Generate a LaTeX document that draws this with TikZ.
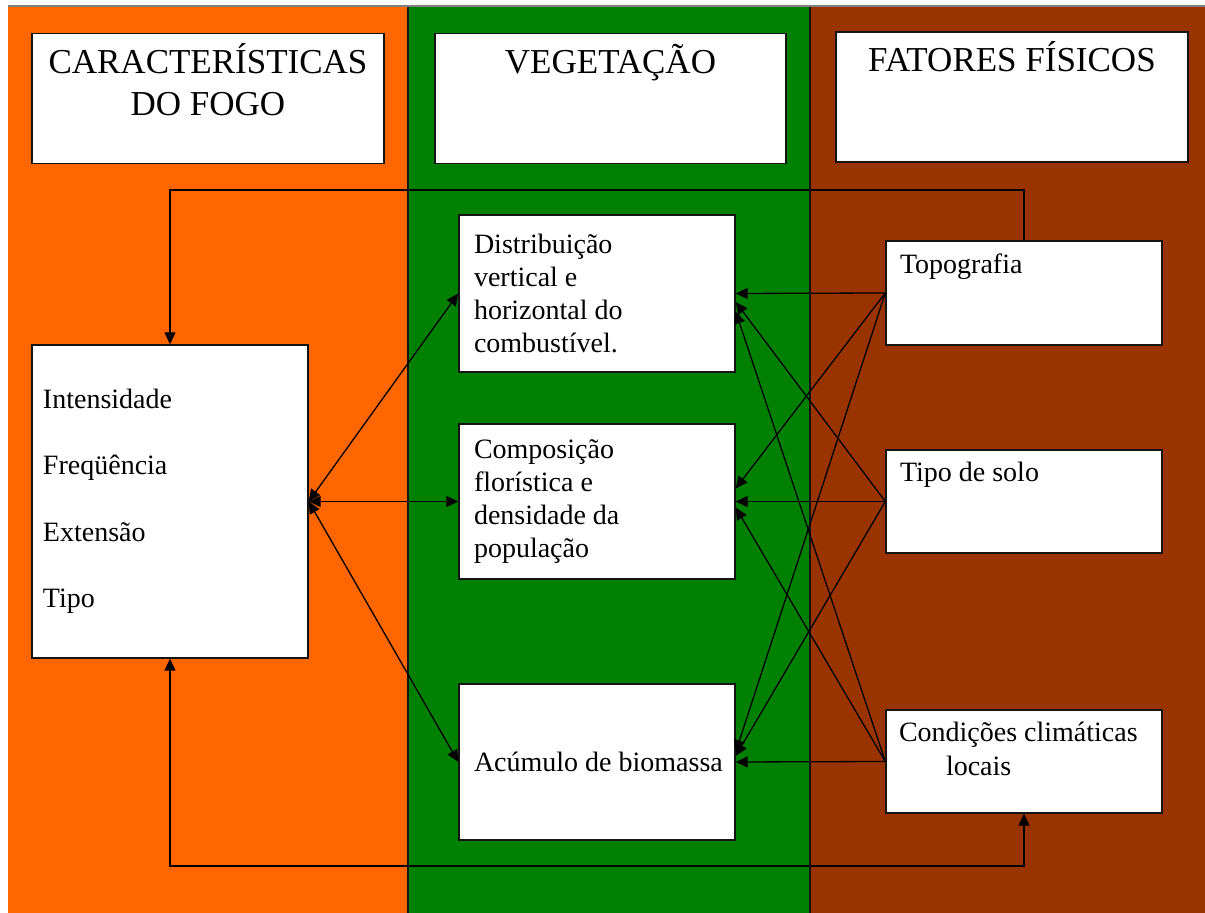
\documentclass[tikz,border=0pt]{standalone}
\usepackage{fontspec}
\setmainfont{LiberationSerif}[Extension=.ttf, UprightFont=*-Regular, BoldFont=*-Bold]
\usetikzlibrary{arrows.meta}
\definecolor{og}{HTML}{FF6600}
\definecolor{gn}{HTML}{008000}
\definecolor{br}{HTML}{993300}
\definecolor{ln}{HTML}{141414}

\begin{document}
\begin{tikzpicture}[x=0.5pt, y=-0.5pt,
  card/.style={draw=ln, fill=white, line width=0.7pt, inner sep=0pt},
  link/.style={draw=black, line width=0.65pt, -{Triangle[length=6pt,width=5.5pt]}},
  twoway/.style={link, {Triangle[length=6pt,width=5.5pt]}-{Triangle[length=6pt,width=5.5pt]}}]
  \useasboundingbox (0,0) rectangle (1205,913);
  % columns
  \fill[og] (8,7) rectangle (408,913);
  \fill[gn] (408,7) rectangle (810,913);
  \fill[br] (810,7) rectangle (1205,913);
  \draw[gray, line width=0.8pt] (8,6) -- (1205,6);
  \draw[ln, line width=0.6pt] (408,7) -- (408,913);
  \draw[ln, line width=0.6pt] (810,7) -- (810,913);

  % headers
  \node[card] (hfogo) at (208,98.5) {\parbox[c][65pt][t]{176pt}{\centering\fontsize{17.5}{21}\selectfont\rule{0pt}{20pt}CARACTERÍSTICAS\\DO FOGO}};
  \node[card] (hveg) at (610.5,98.5) {\parbox[c][65pt][t]{175.5pt}{\centering\fontsize{17.5}{21}\selectfont\rule{0pt}{20pt}VEGETAÇÃO}};
  \node[card] (hfis) at (1012,97) {\parbox[c][65pt][t]{176pt}{\centering\fontsize{17.5}{21}\selectfont\rule{0pt}{20pt}FATORES FÍSICOS}};

  % boxes
  \node[card] (fogo) at (170,501.5) {\parbox[c][156.5pt][c]{138pt}{\leftskip=5.5pt\fontsize{14}{33.25}\selectfont Intensidade\\Freqüência\\Extensão\\Tipo}};
  \node[card] (dist) at (597,293.5) {\parbox[c][78.5pt][c]{138pt}{\leftskip=7.5pt\fontsize{14}{16.5}\selectfont Distribuição\\vertical e\\horizontal do\\combustível.}};
  \node[card] (comp) at (597,501.5) {\parbox[c][77.5pt][c]{138pt}{\leftskip=7.5pt\fontsize{14}{16.5}\selectfont Composição\\florística e\\densidade da\\população}};
  \node[card] (acu) at (597,762) {\parbox[c][78pt][c]{138pt}{\leftskip=7.5pt\fontsize{14}{16.5}\selectfont Acúmulo de biomassa}};
  \node[card] (topo) at (1024,293) {\parbox[c][52pt][t]{138pt}{\leftskip=7pt\fontsize{14}{17}\selectfont\rule{0pt}{16.5pt}Topografia}};
  \node[card] (solo) at (1024,501.5) {\parbox[c][51.5pt][t]{138pt}{\leftskip=7pt\fontsize{14}{17}\selectfont\rule{0pt}{16pt}Tipo de solo}};
  \node[card] (cond) at (1024,761.5) {\parbox[c][51.5pt][t]{138pt}{\leftskip=6.5pt\fontsize{14}{17}\selectfont\rule{0pt}{16pt}Condições climáticas\\\hspace*{23.5pt}locais}};

  % fire <-> vegetation
  \draw[twoway] (fogo.east) -- (dist.west);
  \draw[twoway] (fogo.east) -- (comp.west);
  \draw[twoway] (fogo.east) -- (acu.west);

  % physical factors -> vegetation
  \draw[link] (topo.west) -- (dist.east);
  \draw[link] (topo.west) -- ([yshift=6.5pt]comp.east);
  \draw[link] (topo.west) -- ([yshift=5pt]acu.east);
  \draw[link] (solo.west) -- ([yshift=-4.25pt]dist.east);
  \draw[link] (solo.west) -- (comp.east);
  \draw[link] (solo.west) -- ([yshift=3pt]acu.east);
  \draw[link] (cond.west) -- ([yshift=-9pt]dist.east);
  \draw[link] (cond.west) -- ([yshift=-3pt]comp.east);
  \draw[link] (cond.west) -- (acu.east);

  % feedback loops
  \coordinate (ctop) at (0,190);
  \coordinate (cbot) at (0,866);
  \draw[link] (topo.north) -- (topo.north |- ctop) -- (fogo.north |- ctop) -- (fogo.north);
  \draw[twoway] (fogo.south) -- (fogo.south |- cbot) -- (cond.south |- cbot) -- (cond.south);
\end{tikzpicture}
\end{document}
